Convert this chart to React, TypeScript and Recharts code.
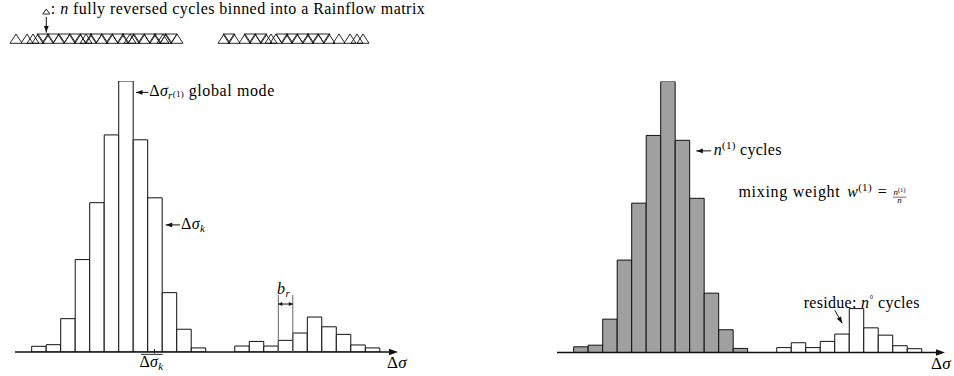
import React from 'react';
import {
  ComposedChart, Bar, Cell, XAxis, YAxis, ReferenceLine, ReferenceDot,
  ScatterChart, Scatter,
} from 'recharts';

const FONT = '"Liberation Serif", "Times New Roman", serif';
const INK = '#111';
const GREY = '#a0a0a0';

// ─── Data ───────────────────────────────────────────────────────────

// 24 stress-range bins: 12 around the global mode, 2 empty, 10 residue bins
const BINS = [0, 1, 2, 3, 4, 5, 6, 7, 8, 9, 10, 11, 12, 13, 14, 15, 16, 17, 18, 19, 20, 21, 22, 23];
const LEFT_COUNTS = [2.1, 2.7, 12.3, 34.1, 55.1, 80.1, 100, 78.3, 56.9, 21.9, 8.4, 1.5, 0, 0, 2.2, 3.9, 2.2, 4.3, 7.0, 12.9, 9.3, 6.5, 2.6, 1.5];
const RIGHT_COUNTS = [2.1, 2.7, 12.3, 34.1, 55.1, 80.1, 100, 78.3, 56.9, 21.9, 8.4, 1.5, 0, 0, 1.8, 3.6, 1.8, 4.1, 6.8, 16.2, 9.1, 6.4, 2.5, 1.4];
const MODE1_LAST_BIN = 11;

// cycles along the signal (time position of each triangle)
const CYCLE_UP_T = [16, 27, 33, 38, 48, 59, 70, 80, 86, 91, 102, 112, 123, 130, 134, 144, 155, 163, 166, 177,
  224, 234, 245, 255, 266, 271, 276, 287, 297, 308, 318, 329, 339, 350, 357, 363];
const CYCLE_DOWN_T = [43, 53, 64, 75, 86, 96, 107, 118, 128, 139, 150, 160, 171,
  229, 250, 261, 282, 292, 303, 313, 324];

const leftData = BINS.map((bin, i) => ({ bin, count: LEFT_COUNTS[i] }));
const rightData = BINS.map((bin, i) => ({ bin, count: RIGHT_COUNTS[i] }));
const upData = CYCLE_UP_T.map(t => ({ t, y: 0 }));
const downData = CYCLE_DOWN_T.map(t => ({ t, y: 0 }));

// ─── Helpers ────────────────────────────────────────────────────────

const headPath = (x: number, y: number, fx: number, fy: number, len = 6.5, half = 2.4) => {
  const dx = x - fx, dy = y - fy;
  const d = Math.hypot(dx, dy) || 1;
  const ux = dx / d, uy = dy / d;
  const bx = x - ux * len, by = y - uy * len;
  return `M${x},${y} L${bx - uy * half},${by + ux * half} L${bx + uy * half},${by - ux * half} Z`;
};

const tri = (cx: number, base: number, up: boolean, w = 12, h = 9.3) => {
  const hw = w / 2;
  return up
    ? `M${cx - hw},${base} L${cx},${base - h} L${cx + hw},${base} Z`
    : `M${cx - hw},${base - h} L${cx + hw},${base - h} L${cx},${base} Z`;
};

const txt = { fontFamily: FONT, fontSize: 16, fill: '#000', letterSpacing: 0.3 } as const;

// tspan that keeps the serif face; sub/superscripts use baseline-shift
const S = (p: any) => <tspan fontFamily={FONT} {...p} />;

const arrow = (extra?: (p: any) => React.ReactNode) => (p: any) => (
  <g>
    <line x1={p.x1} y1={p.y1} x2={p.x2} y2={p.y2} stroke={INK} strokeWidth={1} />
    <path d={headPath(p.x2, p.y2, p.x1, p.y1)} fill={INK} />
    {extra && extra(p)}
  </g>
);

const axisShape = (labelDx: number) => (p: any) => (
  <g>
    <line x1={p.x1} y1={p.y1} x2={p.x2 - 5} y2={p.y2} stroke={INK} strokeWidth={1.6} />
    <path d={headPath(p.x2, p.y2, p.x1, p.y1, 9, 3.2)} fill={INK} />
    <text {...txt} fontSize={17} x={p.x2 + labelDx} y={p.y2 + 16} textAnchor="middle">
      Δ<S fontStyle="italic">σ</S>
    </text>
  </g>
);

// ─── Signal strip ───────────────────────────────────────────────────

function CycleStrip() {
  return (
    <ScatterChart width={440} height={50} margin={{ top: 0, right: 40, bottom: 6.7, left: 0 }}>
      <XAxis type="number" dataKey="t" domain={[0, 400]} hide />
      <YAxis type="number" dataKey="y" domain={[0, 1]} hide />
      <Scatter data={upData} isAnimationActive={false}
        shape={(p: any) => <path d={tri(p.cx, p.cy, true)} fill="none" stroke={INK} strokeWidth={0.9} />} />
      <Scatter data={downData} isAnimationActive={false}
        shape={(p: any) => <path d={tri(p.cx, p.cy, false)} fill="none" stroke={INK} strokeWidth={0.9} />} />
      <ReferenceLine
        segment={[{ x: 46.3, y: 0.607 }, { x: 46.3, y: 0.249 }]}
        ifOverflow="visible"
        shape={arrow(p => (
          <g>
            <path d={tri(p.x1, p.y1 - 3, true, 7, 5)} fill="none" stroke={INK} strokeWidth={0.9} />
            <text {...txt} letterSpacing={0.45} x={p.x1 + 4.5} y={p.y1 - 3.5}>
              <S>: </S><S fontStyle="italic">n</S><S> fully reversed cycles binned into a Rainflow matrix</S>
            </text>
          </g>
        ))}
      />
    </ScatterChart>
  );
}

// ─── Left panel: raw histogram ──────────────────────────────────────

function LeftPanel() {
  return (
    <ComposedChart width={477} height={376} data={leftData}
      margin={{ top: 81, right: 79, bottom: 24, left: 15 }} barCategoryGap={0} barGap={0}>
      <XAxis type="number" dataKey="bin" domain={[-1.65, 24.75]} hide allowDataOverflow />
      <YAxis type="number" domain={[0, 100]} hide allowDataOverflow />
      <Bar dataKey="count" barSize={14.45} fill="#fff" stroke={INK} strokeWidth={1} isAnimationActive={false} />
      <ReferenceLine segment={[{ x: -1.65, y: 0 }, { x: 24.75, y: 0 }]} ifOverflow="visible" shape={axisShape(-1)} />
      <ReferenceLine
        segment={[{ x: 7.54, y: 95.8 }, { x: 6.69, y: 95.8 }]}
        ifOverflow="visible"
        shape={arrow(p => (
          <text {...txt} x={p.x1 + 1} y={p.y1 + 4}>
            <S>Δ</S><S fontStyle="italic">σ</S>
            <S fontSize={11} fontStyle="italic" baselineShift={-3}>r</S>
            <S fontSize={9} baselineShift={-0.5}>(1)</S>
            <S letterSpacing={0.6}>{'  global mode'}</S>
          </text>
        ))}
      />
      <ReferenceLine
        segment={[{ x: 9.73, y: 46.9 }, { x: 8.74, y: 46.9 }]}
        ifOverflow="visible"
        shape={arrow(p => (
          <text {...txt} x={p.x1 + 1} y={p.y1 + 4}>
            <S>Δ</S><S fontStyle="italic">σ</S>
            <S fontSize={11} fontStyle="italic" baselineShift={-3}>k</S>
          </text>
        ))}
      />
      {/* bin width bracket */}
      <ReferenceLine segment={[{ x: 16.5, y: 0 }, { x: 16.5, y: 21 }]} ifOverflow="visible" stroke="#666" strokeWidth={1} />
      <ReferenceLine segment={[{ x: 17.5, y: 0 }, { x: 17.5, y: 21 }]} ifOverflow="visible" stroke="#666" strokeWidth={1} />
      <ReferenceLine
        segment={[{ x: 16.5, y: 17.7 }, { x: 17.5, y: 17.7 }]}
        ifOverflow="visible"
        shape={(p: any) => (
          <g>
            <line x1={p.x1} y1={p.y1} x2={p.x2} y2={p.y2} stroke={INK} strokeWidth={1} />
            <path d={headPath(p.x2, p.y2, p.x1, p.y1, 4, 2)} fill={INK} />
            <path d={headPath(p.x1, p.y1, p.x2, p.y2, 4, 2)} fill={INK} />
            <text {...txt} x={(p.x1 + p.x2) / 2 - 2} y={p.y1 - 10} textAnchor="middle">
              <S fontStyle="italic">b</S>
              <S fontSize={11} fontStyle="italic" baselineShift={-3}>r</S>
            </text>
          </g>
        )}
      />
      {/* mean stress range marker */}
      <ReferenceLine
        segment={[{ x: 7.96, y: -0.5 }, { x: 7.96, y: 1.1 }]}
        ifOverflow="visible"
        shape={(p: any) => (
          <g>
            <line x1={p.x1} y1={p.y1} x2={p.x2} y2={p.y2} stroke={INK} strokeWidth={1} />
            <line x1={p.x1 - 13.4} y1={p.y1 + 1} x2={p.x1 + 8.3} y2={p.y1 + 1} stroke={INK} strokeWidth={0.9} />
            <text {...txt} x={p.x1 - 3} y={p.y1 + 13.5} textAnchor="middle">
              <S>Δ</S><S fontStyle="italic">σ</S>
              <S fontSize={11} fontStyle="italic" baselineShift={-3}>k</S>
            </text>
          </g>
        )}
      />
    </ComposedChart>
  );
}

// ─── Right panel: mode 1 vs residue ─────────────────────────────────

function RightPanel() {
  return (
    <ComposedChart width={477} height={376} data={rightData}
      margin={{ top: 81.5, right: 9, bottom: 23.5, left: 80 }} barCategoryGap={0} barGap={0}>
      <XAxis type="number" dataKey="bin" domain={[-1.65, 25.1]} hide allowDataOverflow />
      <YAxis type="number" domain={[0, 100]} hide allowDataOverflow />
      <Bar dataKey="count" barSize={14.45} stroke={INK} strokeWidth={1} isAnimationActive={false}>
        {rightData.map((d, i) => (
          <Cell key={i} fill={d.bin <= MODE1_LAST_BIN ? GREY : '#fff'} />
        ))}
      </Bar>
      <ReferenceLine segment={[{ x: -1.65, y: 0 }, { x: 25.1, y: 0 }]} ifOverflow="visible" shape={axisShape(-4)} />
      <ReferenceLine
        segment={[{ x: 8.98, y: 74.4 }, { x: 7.96, y: 74.4 }]}
        ifOverflow="visible"
        shape={arrow(p => (
          <text {...txt} x={p.x1 + 2.5} y={p.y1 + 4}>
            <S fontStyle="italic">n</S>
            <S fontSize={11} baselineShift={6}>(1)</S>
            <S> cycles</S>
          </text>
        ))}
      />
      <ReferenceDot
        x={10.86} y={57.5} ifOverflow="visible"
        shape={(p: any) => (
          <g>
            <text {...txt} x={p.cx} y={p.cy}>
              <S letterSpacing={0.7}>mixing weight </S><S fontStyle="italic" dx={2}>w</S>
              <S fontSize={11} baselineShift={6}>(1)</S>
              <S dx={6}>=</S>
            </text>
            <text {...txt} letterSpacing={0} fontSize={9} x={p.cx + 161} y={p.cy - 1.5} textAnchor="middle">
              <S fontStyle="italic">n</S><S fontSize={6.5} baselineShift={3}>(1)</S>
            </text>
            <line x1={p.cx + 154.5} y1={p.cy + 0.5} x2={p.cx + 168} y2={p.cy + 0.5} stroke={INK} strokeWidth={0.6} />
            <text {...txt} letterSpacing={0} fontSize={9} x={p.cx + 161} y={p.cy + 6.5} textAnchor="middle" fontStyle="italic">n</text>
          </g>
        )}
      />
      <ReferenceDot
        x={15.36} y={16.3} ifOverflow="visible"
        shape={(p: any) => (
          <text {...txt} x={p.cx} y={p.cy}>
            <S>residue: </S><S fontStyle="italic">n</S>
            <S fontSize={10} baselineShift={5}>°</S>
            <S> cycles</S>
          </text>
        )}
      />
      <ReferenceLine
        segment={[{ x: 17.5, y: 15.6 }, { x: 18.01, y: 10.8 }]}
        ifOverflow="visible"
        shape={arrow()}
      />
    </ComposedChart>
  );
}

export default function App() {
  return (
    <div style={{ position: 'absolute', left: 0, top: 0, width: 954, height: 376, background: '#fff', overflow: 'hidden' }}>
      <div style={{ position: 'absolute', left: 0, top: 0 }}><CycleStrip /></div>
      <div style={{ position: 'absolute', left: 0, top: 0 }}><LeftPanel /></div>
      <div style={{ position: 'absolute', left: 477, top: 0 }}><RightPanel /></div>
    </div>
  );
}
